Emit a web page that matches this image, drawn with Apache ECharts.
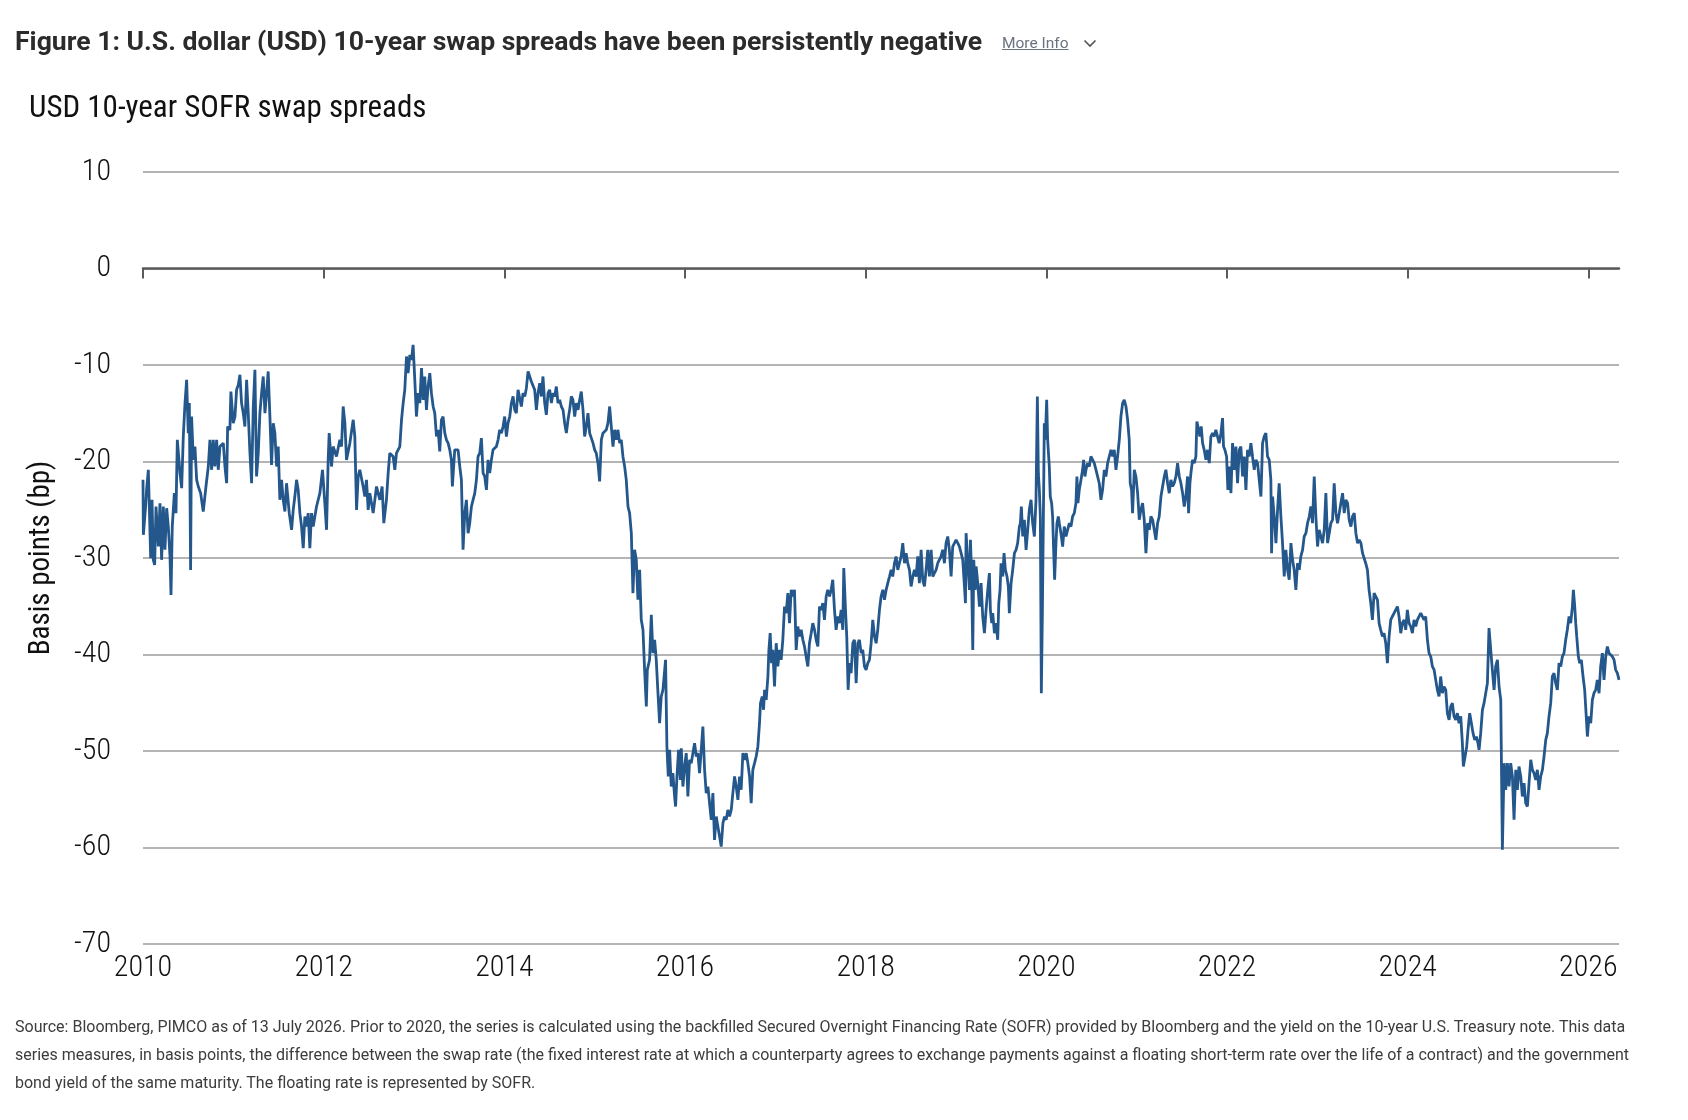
<!DOCTYPE html>
<html>
<head>
<meta charset="utf-8">
<script src="https://cdn.jsdelivr.net/npm/echarts@6/dist/echarts.min.js"></script>
<style>
html,body{margin:0;padding:0;background:#fff;}
#wrap{position:relative;width:1688px;height:1120px;overflow:hidden;background:#fff;}
#chart{position:absolute;left:0;top:0;width:1688px;height:1120px;}
.hd{position:absolute;white-space:nowrap;font-family:Roboto,'Noto Sans',sans-serif;}
#ttl{left:15px;top:26px;font-weight:700;font-size:26.6px;line-height:30px;color:#2b2b2b;}
#more{left:1002px;top:34px;font-size:15.5px;line-height:18px;color:#6b7280;text-decoration:underline;}
#chev{position:absolute;left:1083px;top:39px;}
#foot{position:absolute;left:15px;top:1013px;font-family:Roboto,'Noto Sans',sans-serif;font-size:16px;line-height:28px;color:#3c3c3c;white-space:nowrap;}
</style>
</head>
<body>
<div id="wrap">
  <div id="chart"></div>
  <div class="hd" id="ttl">Figure 1: U.S. dollar (USD) 10-year swap spreads have been persistently negative</div>
  <div class="hd" id="more">More Info</div>
  <svg id="chev" width="14" height="9" viewBox="0 0 14 9"><polyline points="1.5,1.5 7,7 12.5,1.5" fill="none" stroke="#555" stroke-width="1.6"/></svg>
  <div id="foot">Source: Bloomberg, PIMCO as of 13 July 2026. Prior to 2020, the series is calculated using the backfilled Secured Overnight Financing Rate (SOFR) provided by Bloomberg and the yield on the 10-year U.S. Treasury note. This data<br>series measures, in basis points, the difference between the swap rate (the fixed interest rate at which a counterparty agrees to exchange payments against a floating short-term rate over the life of a contract) and the government<br>bond yield of the same maturity. The floating rate is represented by SOFR.</div>
</div>
<script>
// ---- DATA (decimal years, basis points) ----
const chartTitle = 'USD 10-year SOFR swap spreads';
const yAxisName = 'Basis points (bp)';
const yearTicks = [2010, 2012, 2014, 2016, 2018, 2020, 2022, 2024, 2026];

const dates2010_2012 = [2010.000,2010.004,2010.029,2010.041,2010.059,2010.070,2010.085,2010.100,2010.114,2010.129,
2010.144,2010.170,2010.188,2010.206,2010.225,2010.243,2010.262,2010.280,2010.299,2010.310,
2010.324,2010.347,2010.365,2010.380,2010.398,2010.409,2010.428,2010.446,2010.465,2010.483,
2010.501,2010.513,2010.527,2010.538,2010.557,2010.575,2010.594,2010.612,2010.638,2010.667,
2010.697,2010.723,2010.741,2010.760,2010.778,2010.796,2010.815,2010.833,2010.852,2010.889,
2010.907,2010.926,2010.937,2010.962,2010.973,2010.999,2011.018,2011.036,2011.055,2011.073,
2011.091,2011.110,2011.128,2011.147,2011.165,2011.184,2011.202,2011.221,2011.239,2011.257,
2011.276,2011.294,2011.313,2011.331,2011.350,2011.368,2011.386,2011.405,2011.423,2011.442,
2011.460,2011.479,2011.497,2011.515,2011.534,2011.552,2011.571,2011.589,2011.619,2011.645,
2011.663,2011.681,2011.700,2011.718,2011.737,2011.755,2011.774,2011.792,2011.810,2011.829,
2011.847,2011.866,2011.884,2011.921,2011.958,2011.987,2012.013,2012.032,2012.050,2012.061,
2012.087,2012.105,2012.142,2012.179,2012.198,2012.216,2012.235,2012.253,2012.290,2012.327,
2012.345,2012.364,2012.382,2012.400,2012.437,2012.456,2012.474,2012.493,2012.511,2012.548,
2012.585,2012.622,2012.647,2012.666,2012.695,2012.714,2012.732,2012.769,2012.788,2012.806,
2012.843,2012.862,2012.880,2012.898,2012.917,2012.935,2012.954,2012.972,2012.990];
const spread2010_2012 = [-21.90,-27.60,-24.66,-22.76,-20.86,-24.66,-30.02,-23.97,-30.19,-30.71,
-24.66,-28.81,-24.32,-30.19,-24.66,-29.15,-24.84,-26.74,-29.84,-33.82,
-26.74,-23.28,-25.35,-17.75,-19.83,-21.21,-22.76,-17.41,-13.95,-11.54,
-17.06,-13.95,-31.23,-15.34,-19.83,-18.45,-21.90,-22.59,-23.28,-25.18,
-22.59,-20.52,-17.75,-20.86,-17.75,-20.52,-17.75,-20.86,-18.45,-18.10,
-20.52,-22.25,-16.37,-16.72,-12.75,-16.03,-15.34,-12.57,-12.06,-11.02,
-13.95,-14.99,-16.37,-11.54,-14.99,-19.14,-22.25,-14.30,-10.50,-21.55,
-19.14,-14.99,-12.92,-11.19,-14.99,-12.92,-10.67,-15.34,-20.35,-16.03,
-17.06,-20.52,-18.45,-23.97,-21.90,-23.97,-25.18,-22.25,-25.35,-27.08,
-25.01,-23.63,-21.90,-22.94,-25.35,-26.74,-28.98,-25.70,-26.74,-25.35,
-28.98,-25.35,-26.74,-24.66,-23.28,-20.86,-24.32,-27.08,-19.83,-17.06,
-20.52,-18.45,-19.48,-17.75,-18.45,-14.30,-16.03,-19.83,-18.10,-15.68,
-17.41,-25.01,-21.55,-20.86,-22.59,-23.63,-21.90,-25.01,-23.28,-25.35,
-22.59,-23.97,-22.59,-26.39,-23.97,-21.21,-19.14,-19.48,-20.86,-19.14,
-18.45,-15.68,-13.95,-12.57,-9.12,-10.85,-8.95,-9.46,-7.91];

const dates2013 = [2013.009,2013.027,2013.046,2013.064,2013.083,2013.101,2013.119,2013.138,2013.156,2013.175,
2013.193,2013.212,2013.230,2013.249,2013.267,2013.285,2013.304,2013.322,2013.341,2013.359,
2013.378,2013.396,2013.414,2013.425,2013.451,2013.470,2013.488,2013.507,2013.525,2013.543,
2013.562,2013.580,2013.599,2013.617,2013.636,2013.654,2013.673,2013.691,2013.709,2013.728,
2013.746,2013.765,2013.783,2013.802,2013.820,2013.838,2013.857,2013.875,2013.912,2013.931,
2013.949,2013.968,2013.986];
const spread2013 = [-11.54,-15.34,-12.92,-13.95,-10.33,-13.61,-11.19,-14.65,-12.23,-10.85,
-12.92,-14.30,-14.99,-17.41,-16.72,-18.96,-15.68,-15.34,-17.06,-17.75,
-18.10,-18.79,-19.83,-22.59,-18.79,-18.96,-18.79,-20.52,-21.90,-29.15,
-25.35,-23.97,-27.43,-26.39,-24.66,-23.97,-23.28,-21.90,-19.48,-19.14,
-17.58,-21.21,-21.55,-22.94,-19.83,-21.21,-19.83,-18.79,-18.45,-17.75,
-16.72,-17.06,-16.37];

const dates2014_2015 = [2014.004,2014.023,2014.041,2014.060,2014.078,2014.097,2014.115,2014.133,2014.152,2014.170,
2014.189,2014.207,2014.226,2014.244,2014.263,2014.281,2014.299,2014.318,2014.336,2014.355,
2014.373,2014.392,2014.410,2014.428,2014.447,2014.465,2014.484,2014.502,2014.521,2014.539,
2014.557,2014.576,2014.594,2014.613,2014.631,2014.650,2014.668,2014.687,2014.705,2014.723,
2014.742,2014.760,2014.779,2014.797,2014.816,2014.834,2014.852,2014.871,2014.889,2014.908,
2014.926,2014.945,2014.963,2014.982,2015.000,2015.018,2015.037,2015.055,2015.074,2015.092,
2015.111,2015.129,2015.147,2015.166,2015.184,2015.203,2015.221,2015.240,2015.258,2015.277,
2015.295,2015.313,2015.332,2015.350,2015.369,2015.387,2015.406,2015.424,2015.442,2015.461,
2015.479,2015.498,2015.516];
const spread2014_2015 = [-15.34,-17.41,-16.03,-15.34,-13.95,-13.26,-14.65,-14.99,-12.57,-13.44,
-14.30,-12.92,-13.26,-12.40,-10.67,-11.19,-11.71,-11.54,-12.57,-14.65,
-12.92,-11.88,-13.26,-11.19,-13.95,-15.16,-12.92,-12.57,-13.95,-12.92,
-13.26,-12.23,-13.95,-13.61,-14.30,-14.65,-16.03,-17.06,-15.68,-14.65,
-13.26,-13.61,-15.34,-13.95,-14.65,-13.61,-12.75,-14.65,-17.41,-16.37,
-14.99,-17.06,-17.06,-18.10,-18.79,-19.14,-20.17,-22.07,-17.75,-17.06,
-17.06,-16.72,-16.03,-14.30,-16.37,-18.45,-16.72,-17.75,-16.72,-18.10,
-17.75,-19.48,-20.52,-21.90,-24.66,-25.35,-27.43,-33.64,-29.15,-30.19,
-34.33,-31.23,-36.41];

const dates2015_2018 = [2015.535,2015.553,2015.572,2015.583,2015.608,2015.627,2015.645,2015.664,2015.682,2015.701,
2015.719,2015.737,2015.756,2015.785,2015.800,2015.815,2015.830,2015.848,2015.866,2015.885,
2015.896,2015.911,2015.929,2015.948,2015.959,2015.977,2015.996,2016.014,2016.032,2016.051,
2016.069,2016.088,2016.106,2016.125,2016.143,2016.161,2016.180,2016.198,2016.217,2016.235,
2016.254,2016.272,2016.291,2016.309,2016.327,2016.346,2016.364,2016.383,2016.401,2016.420,
2016.438,2016.456,2016.475,2016.493,2016.512,2016.530,2016.549,2016.567,2016.586,2016.604,
2016.622,2016.641,2016.659,2016.678,2016.696,2016.715,2016.733,2016.751,2016.770,2016.788,
2016.807,2016.825,2016.836,2016.855,2016.870,2016.881,2016.899,2016.918,2016.929,2016.943,
2016.958,2016.973,2016.991,2017.010,2017.028,2017.046,2017.065,2017.083,2017.102,2017.120,
2017.139,2017.157,2017.176,2017.194,2017.212,2017.231,2017.249,2017.268,2017.286,2017.305,
2017.323,2017.341,2017.360,2017.378,2017.397,2017.415,2017.434,2017.452,2017.471,2017.489,
2017.507,2017.526,2017.544,2017.563,2017.581,2017.600,2017.618,2017.636,2017.655,2017.673,
2017.692,2017.710,2017.729,2017.747,2017.758,2017.777,2017.791,2017.806,2017.821,2017.839,
2017.858,2017.876,2017.895,2017.913,2017.931,2017.950,2017.968,2017.987,2018.005,2018.024,
2018.042,2018.061,2018.079,2018.098,2018.116,2018.134,2018.153,2018.171,2018.190,2018.208,
2018.227,2018.245,2018.264,2018.282,2018.300,2018.319,2018.337,2018.356,2018.374,2018.393,
2018.411,2018.430,2018.448,2018.466,2018.485,2018.503,2018.522,2018.540,2018.559,2018.577,
2018.595,2018.614,2018.632,2018.651,2018.669,2018.688,2018.706,2018.725,2018.743,2018.761,
2018.780,2018.798];
const spread2015_2018 = [-37.44,-41.59,-45.39,-41.59,-40.55,-35.89,-39.86,-38.48,-40.55,-44.01,
-47.12,-44.35,-43.66,-40.55,-49.53,-52.64,-49.88,-53.68,-52.30,-54.71,
-55.75,-52.64,-49.88,-52.99,-49.71,-53.68,-51.61,-50.22,-54.71,-50.91,
-51.26,-50.22,-49.19,-50.57,-50.22,-52.30,-49.88,-47.46,-51.95,-54.37,
-53.68,-55.41,-57.13,-54.37,-59.21,-56.79,-57.82,-58.86,-59.90,-57.48,
-56.79,-57.13,-56.10,-56.79,-56.10,-54.37,-52.64,-53.68,-55.06,-52.64,
-54.02,-50.22,-50.91,-50.22,-51.26,-52.64,-55.41,-51.95,-51.26,-50.57,
-49.53,-47.12,-45.04,-44.35,-45.73,-43.66,-44.70,-42.28,-39.52,-37.79,
-40.90,-39.52,-43.32,-38.83,-41.24,-39.52,-40.55,-38.48,-35.03,-35.72,
-33.64,-36.75,-33.30,-33.99,-33.30,-39.52,-37.10,-38.13,-37.44,-38.48,
-39.17,-40.21,-41.24,-38.83,-37.79,-36.75,-37.44,-38.48,-39.17,-35.03,
-35.37,-34.68,-36.41,-33.99,-33.30,-33.99,-33.30,-32.26,-35.37,-37.44,
-36.06,-36.75,-35.37,-37.44,-31.05,-35.37,-38.13,-43.66,-40.90,-41.93,
-38.83,-38.48,-42.97,-38.83,-38.48,-39.86,-39.52,-41.24,-41.59,-40.90,
-40.55,-38.83,-36.41,-38.13,-38.83,-37.44,-35.37,-33.99,-33.30,-34.33,
-33.30,-32.61,-31.92,-31.23,-31.92,-30.54,-29.84,-31.23,-30.54,-29.84,
-28.46,-30.54,-29.50,-30.54,-31.23,-32.95,-31.92,-31.23,-31.92,-29.84,
-32.61,-29.15,-32.26,-32.95,-31.23,-29.15,-31.92,-29.15,-31.92,-31.57,
-31.23,-30.54];

const dates2018_2023 = [2018.835,2018.853,2018.872,2018.890,2018.909,2018.927,2018.946,2018.964,2018.983,2019.001,
2019.020,2019.038,2019.057,2019.075,2019.094,2019.105,2019.112,2019.131,2019.149,2019.160,
2019.171,2019.186,2019.197,2019.212,2019.223,2019.241,2019.260,2019.278,2019.296,2019.315,
2019.333,2019.352,2019.370,2019.381,2019.396,2019.407,2019.426,2019.444,2019.462,2019.474,
2019.488,2019.499,2019.518,2019.532,2019.547,2019.565,2019.580,2019.591,2019.610,2019.628,
2019.647,2019.665,2019.683,2019.702,2019.713,2019.724,2019.739,2019.757,2019.776,2019.794,
2019.812,2019.831,2019.849,2019.868,2019.886,2019.901,2019.912,2019.923,2019.934,2019.945,
2019.956,2019.967,2019.978,2019.989,2020.004,2020.015,2020.033,2020.044,2020.059,2020.070,
2020.081,2020.092,2020.107,2020.118,2020.133,2020.144,2020.162,2020.181,2020.199,2020.218,
2020.236,2020.255,2020.273,2020.291,2020.310,2020.328,2020.339,2020.350,2020.365,2020.384,
2020.402,2020.413,2020.428,2020.439,2020.457,2020.476,2020.494,2020.513,2020.531,2020.550,
2020.568,2020.586,2020.605,2020.623,2020.642,2020.660,2020.679,2020.697,2020.716,2020.734,
2020.752,2020.771,2020.789,2020.808,2020.826,2020.845,2020.863,2020.882,2020.900,2020.918,
2020.929,2020.944,2020.955,2020.974,2020.992,2021.011,2021.029,2021.047,2021.066,2021.084,
2021.103,2021.121,2021.140,2021.158,2021.177,2021.195,2021.213,2021.232,2021.250,2021.269,
2021.287,2021.306,2021.324,2021.343,2021.361,2021.379,2021.398,2021.416,2021.435,2021.453,
2021.472,2021.490,2021.509,2021.527,2021.545,2021.564,2021.575,2021.590,2021.601,2021.619,
2021.638,2021.656,2021.667,2021.686,2021.700,2021.715,2021.730,2021.748,2021.767,2021.785,
2021.804,2021.822,2021.840,2021.859,2021.877,2021.896,2021.914,2021.933,2021.951,2021.962,
2021.977,2021.996,2022.010,2022.025,2022.044,2022.062,2022.080,2022.099,2022.117,2022.136,
2022.154,2022.173,2022.191,2022.210,2022.228,2022.246,2022.265,2022.283,2022.302,2022.320,
2022.339,2022.357,2022.376,2022.394,2022.412,2022.431,2022.449,2022.468,2022.486,2022.494,
2022.505,2022.523,2022.542,2022.560,2022.578,2022.597,2022.615,2022.634,2022.652,2022.671,
2022.689,2022.708,2022.726,2022.744,2022.763,2022.781,2022.800,2022.818,2022.837,2022.855,
2022.874,2022.892,2022.911,2022.929,2022.947,2022.966,2022.984,2023.003,2023.021,2023.040,
2023.058,2023.077,2023.095,2023.114,2023.132,2023.150,2023.169,2023.187,2023.206,2023.224,
2023.243,2023.261,2023.280,2023.298,2023.316,2023.335,2023.353,2023.372,2023.390,2023.409,
2023.427,2023.446,2023.464,2023.483,2023.501];
const spread2018_2023 = [-29.84,-29.15,-30.54,-28.46,-27.77,-29.15,-31.92,-28.81,-28.46,-28.12,
-28.46,-28.81,-29.50,-30.19,-32.95,-34.68,-27.43,-30.54,-33.30,-28.12,
-31.23,-39.52,-30.19,-33.30,-30.88,-32.61,-35.03,-32.61,-36.06,-37.79,
-35.37,-33.30,-31.57,-35.37,-36.75,-35.72,-37.79,-36.75,-38.48,-34.68,
-33.30,-30.54,-31.92,-29.50,-31.23,-31.92,-32.95,-35.72,-32.61,-31.23,
-29.50,-29.15,-28.46,-26.74,-26.39,-24.66,-27.77,-26.04,-29.15,-27.08,
-25.01,-23.97,-26.39,-27.77,-23.97,-13.26,-21.21,-22.94,-25.70,-44.01,
-36.06,-26.39,-16.03,-17.75,-13.61,-17.75,-20.52,-23.63,-24.32,-25.70,
-29.15,-32.26,-28.46,-26.39,-25.70,-26.39,-27.43,-28.81,-26.74,-27.77,
-27.08,-26.39,-26.74,-25.70,-25.35,-24.32,-21.55,-24.32,-22.94,-21.90,
-20.86,-19.83,-21.55,-20.86,-20.17,-20.52,-19.48,-19.83,-20.17,-20.86,
-20.86,-22.25,-23.97,-22.94,-20.86,-21.55,-20.17,-19.48,-18.79,-19.48,
-18.79,-20.86,-19.48,-17.75,-15.34,-13.95,-13.61,-14.30,-15.68,-17.75,
-22.25,-22.94,-25.35,-20.86,-21.55,-23.28,-26.04,-25.01,-24.32,-26.04,
-29.50,-26.39,-27.08,-25.70,-26.04,-27.08,-28.12,-26.39,-25.70,-23.63,
-23.63,-21.55,-20.86,-22.25,-23.28,-21.90,-22.59,-22.25,-21.55,-20.17,
-21.55,-22.25,-23.28,-24.66,-23.63,-21.55,-25.35,-22.25,-21.21,-19.83,
-20.17,-19.48,-15.85,-16.72,-17.41,-16.37,-18.10,-18.79,-19.83,-18.79,
-20.17,-17.41,-17.06,-17.41,-16.72,-16.72,-18.10,-17.06,-15.51,-18.45,
-18.79,-19.48,-22.94,-20.52,-23.28,-18.10,-20.86,-18.45,-22.25,-18.79,
-18.45,-21.55,-19.48,-22.94,-18.79,-19.48,-18.10,-19.48,-20.86,-19.83,
-20.17,-21.90,-23.63,-18.10,-17.41,-17.06,-19.48,-19.83,-21.90,-29.50,
-23.63,-25.70,-28.46,-25.01,-22.25,-25.70,-28.46,-31.92,-29.15,-31.23,
-32.26,-28.46,-30.19,-31.23,-33.30,-30.54,-31.23,-29.84,-29.15,-27.77,
-27.43,-26.39,-25.70,-24.66,-26.39,-21.55,-25.70,-28.81,-27.08,-27.77,
-28.46,-27.08,-23.28,-28.46,-27.43,-26.39,-26.04,-22.25,-25.35,-26.39,
-25.35,-24.32,-23.28,-25.35,-23.97,-24.32,-26.04,-26.74,-25.70,-25.35,
-27.43,-28.46,-28.12,-28.46,-29.50];

const dates2023_2026 = [2023.536,2023.555,2023.573,2023.592,2023.610,2023.629,2023.647,2023.666,2023.684,2023.702,
2023.721,2023.739,2023.758,2023.776,2023.795,2023.813,2023.831,2023.850,2023.868,2023.887,
2023.905,2023.924,2023.942,2023.961,2023.979,2023.997,2024.016,2024.034,2024.053,2024.071,
2024.090,2024.108,2024.127,2024.145,2024.163,2024.182,2024.200,2024.219,2024.237,2024.256,
2024.274,2024.293,2024.311,2024.329,2024.348,2024.366,2024.385,2024.403,2024.422,2024.440,
2024.459,2024.477,2024.495,2024.514,2024.532,2024.551,2024.569,2024.588,2024.606,2024.617,
2024.636,2024.654,2024.669,2024.687,2024.706,2024.724,2024.743,2024.761,2024.779,2024.791,
2024.809,2024.828,2024.846,2024.865,2024.883,2024.901,2024.920,2024.938,2024.957,2024.975,
2024.994,2025.012,2025.031,2025.049,2025.068,2025.086,2025.104,2025.123,2025.141,2025.160,
2025.178,2025.197,2025.215,2025.233,2025.252,2025.270,2025.289,2025.307,2025.326,2025.344,
2025.363,2025.381,2025.399,2025.418,2025.436,2025.455,2025.473,2025.492,2025.510,2025.529,
2025.547,2025.565,2025.584,2025.602,2025.621,2025.639,2025.658,2025.676,2025.695,2025.713,
2025.731,2025.750,2025.768,2025.787,2025.805,2025.824,2025.835,2025.850,2025.861,2025.872,
2025.890,2025.905,2025.923,2025.942,2025.960,2025.971,2025.990,2026.008,2026.027,2026.045,
2026.063,2026.082,2026.100,2026.119,2026.137,2026.156,2026.174,2026.193,2026.211,2026.230,
2026.248,2026.267,2026.285,2026.303,2026.322,2026.340];
const spread2023_2026 = [-30.54,-31.23,-33.30,-34.68,-36.41,-33.64,-33.99,-34.33,-36.75,-37.44,
-38.13,-37.79,-38.83,-40.90,-38.13,-36.41,-36.06,-35.72,-35.37,-35.03,
-36.06,-37.79,-36.75,-36.41,-37.44,-35.37,-36.75,-37.10,-37.79,-36.41,
-37.10,-36.41,-36.06,-35.72,-36.06,-36.41,-36.06,-38.48,-39.86,-40.21,
-41.24,-41.59,-42.63,-43.66,-44.35,-42.28,-44.01,-43.32,-43.66,-46.08,
-46.77,-45.39,-45.04,-46.42,-46.77,-46.08,-47.12,-46.42,-49.19,-51.61,
-50.57,-49.53,-47.81,-46.08,-47.12,-48.15,-48.84,-48.50,-49.19,-49.88,
-48.15,-45.73,-45.04,-45.04,-42.97,-37.27,-39.52,-41.59,-43.66,-41.24,
-40.55,-43.32,-44.70,-60.24,-51.26,-54.02,-51.26,-53.68,-51.26,-52.64,
-57.13,-51.95,-54.02,-51.61,-52.64,-54.71,-53.33,-55.41,-55.75,-53.33,
-50.91,-51.95,-52.30,-52.99,-51.95,-54.02,-52.64,-51.95,-50.57,-48.84,
-48.15,-46.42,-45.04,-42.28,-41.93,-42.97,-43.66,-40.90,-41.24,-40.21,
-39.86,-38.48,-37.44,-36.06,-36.75,-35.03,-33.30,-35.03,-36.75,-38.13,
-40.21,-40.90,-40.55,-42.28,-43.66,-45.39,-48.50,-46.42,-47.12,-44.70,
-44.01,-43.66,-42.63,-44.01,-41.24,-39.86,-42.63,-40.21,-39.17,-39.86,
-39.86,-40.21,-40.55,-41.59,-41.93,-42.63];

// ---- BUILD ----
const allDates = [].concat(dates2010_2012, dates2013, dates2014_2015, dates2015_2018, dates2018_2023, dates2023_2026);
const allSpread = [].concat(spread2010_2012, spread2013, spread2014_2015, spread2015_2018, spread2018_2023, spread2023_2026);
const seriesData = allDates.map((d, i) => [d, allSpread[i]]);
const xMin = yearTicks[0];
const xMax = allDates[allDates.length - 1];

const NARROW = "'Roboto Condensed','Noto Sans Condensed','Liberation Sans Narrow','DejaVu Sans Condensed',sans-serif";

const chart = echarts.init(document.getElementById('chart'), null, { renderer: 'canvas' });
chart.setOption({
  animation: false,
  backgroundColor: 'transparent',
  title: {
    text: chartTitle, left: 24, top: 89, padding: 5,
    textStyle: { fontFamily: NARROW, fontSize: 31, fontWeight: 'normal', color: '#111' }
  },
  grid: { left: 143, right: 69, top: 172, bottom: 176, containLabel: false, outerBoundsMode: 'none' },
  xAxis: [
    {
      type: 'value', min: xMin, max: xMax, interval: 2, position: 'bottom',
      axisLine: { show: false, onZero: false }, axisTick: { show: false }, splitLine: { show: false },
      axisLabel: { customValues: yearTicks, formatter: v => String(Math.round(v)), fontFamily: NARROW, fontWeight: 300, fontSize: 30, color: '#111', margin: 9 }
    },
    {
      type: 'value', min: xMin, max: xMax, interval: 2, position: 'bottom',
      axisLine: { show: true, onZero: true, onZeroAxisIndex: 0, lineStyle: { color: '#5b5b5b', width: 2.5 } },
      axisTick: { show: true, customValues: yearTicks, length: 10, lineStyle: { color: '#5b5b5b', width: 2 } },
      axisLabel: { show: false }, splitLine: { show: false }
    }
  ],
  yAxis: {
    type: 'value', min: -70, max: 10, interval: 10,
    axisLine: { show: false }, axisTick: { show: false },
    splitLine: { show: true, lineStyle: { color: '#9b9b9b', width: 1.5 } },
    axisLabel: { fontFamily: NARROW, fontWeight: 300, fontSize: 30, color: '#111', margin: 32 },
    name: yAxisName, nameLocation: 'middle', nameGap: 87, nameRotate: 90,
    nameTextStyle: { fontFamily: NARROW, fontSize: 29, color: '#111' }
  },
  series: [{
    type: 'line', xAxisIndex: 0, yAxisIndex: 0, data: seriesData,
    showSymbol: false, symbol: 'none', lineStyle: { color: '#24578b', width: 2.8 }, z: 3
  }]
});
</script>
</body>
</html>
